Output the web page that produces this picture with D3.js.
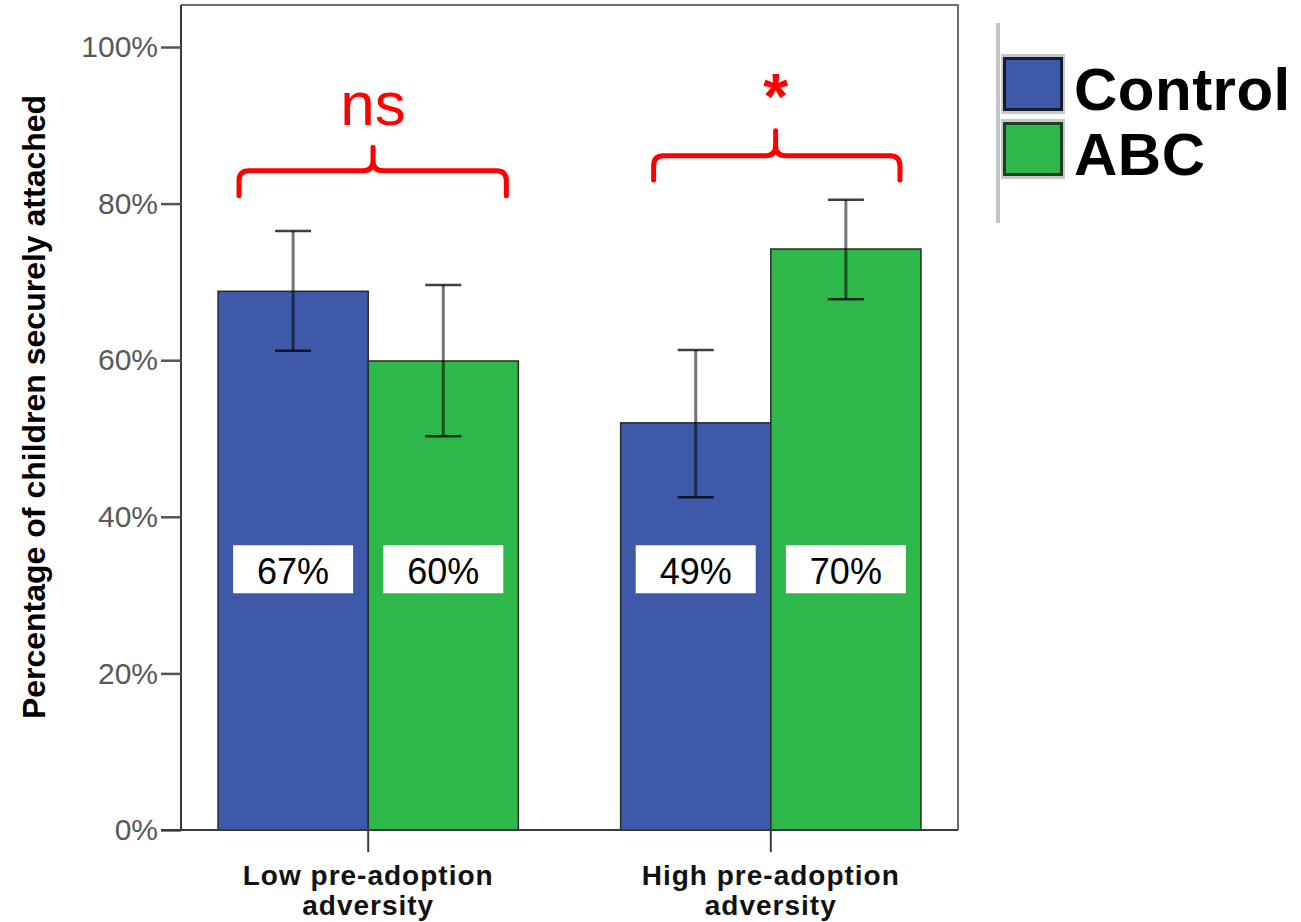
<!DOCTYPE html>
<html>
<head>
<meta charset="utf-8">
<script src="https://cdn.jsdelivr.net/npm/d3@7"></script>
<style>
  html, body { margin: 0; padding: 0; background: #fff; }
  svg { display: block; }
  text { font-family: "Liberation Sans", Arial, Helvetica, sans-serif; }
</style>
</head>
<body>
<svg id="chart" width="1301" height="922"></svg>
<script>
// ---- data ----
const categories = ["Low pre-adoption adversity", "High pre-adoption adversity"];
const categoryLines = [["Low pre-adoption", "adversity"], ["High pre-adoption", "adversity"]];
const series = ["Control", "ABC"];
const controlValues = [0.688, 0.520];
const abcValues = [0.599, 0.742];
const controlErrLow = [0.612, 0.425];
const controlErrHigh = [0.765, 0.613];
const abcErrLow = [0.503, 0.678];
const abcErrHigh = [0.696, 0.805];
const valueLabels = [["67%", "60%"], ["49%", "70%"]];
const yTicks = [0, 0.2, 0.4, 0.6, 0.8, 1.0];
const yTickLabels = ["0%", "20%", "40%", "60%", "80%", "100%"];
const significance = ["ns", "*"];

// ---- layout ----
const svg = d3.select("#chart");
const plotLeft = 181, plotRight = 958, plotTop = 5, plotBottom = 830, yTopPx = 47;
const colors = { Control: "#3e58aa", ABC: "#2eb84a" };

const y = d3.scaleLinear().domain([0, 1]).range([plotBottom, yTopPx]);
const x = d3.scaleBand().domain(categories).range([plotLeft, plotRight])
  .paddingInner(0.254).paddingOuter(0.092);
const xs = d3.scaleBand().domain(series).range([0, x.bandwidth()]);

const rows = categories.map((c, i) => ({
  cat: c, i,
  bars: [
    { s: "Control", v: controlValues[i], lo: controlErrLow[i], hi: controlErrHigh[i], label: valueLabels[i][0] },
    { s: "ABC", v: abcValues[i], lo: abcErrLow[i], hi: abcErrHigh[i], label: valueLabels[i][1] }
  ]
}));

// frame (top & right)
svg.append("path")
  .attr("d", `M${plotLeft},${plotTop}H${plotRight}V${plotBottom}`)
  .attr("fill", "none").attr("stroke", "#6e6e6e").attr("stroke-width", 2);

// bars
const g = svg.append("g");
rows.forEach(r => {
  r.bars.forEach(b => {
    const bx = x(r.cat) + xs(b.s);
    g.append("rect")
      .attr("x", bx).attr("y", y(b.v))
      .attr("width", xs.bandwidth()).attr("height", y(0) - y(b.v))
      .attr("fill", colors[b.s]).attr("stroke", "#2a2a2a").attr("stroke-width", 1.5);
  });
});

// error bars
rows.forEach(r => {
  r.bars.forEach(b => {
    const cx = x(r.cat) + xs(b.s) + xs.bandwidth() / 2;
    g.append("line").attr("x1", cx).attr("x2", cx).attr("y1", y(b.hi)).attr("y2", y(b.lo))
      .attr("stroke", "#000").attr("stroke-opacity", 0.55).attr("stroke-width", 3);
    [b.hi, b.lo].forEach(v => {
      g.append("line").attr("x1", cx - 18).attr("x2", cx + 18).attr("y1", y(v)).attr("y2", y(v))
        .attr("stroke", "#000").attr("stroke-opacity", 0.75).attr("stroke-width", 2.5);
    });
  });
});

// value label boxes
rows.forEach(r => {
  r.bars.forEach(b => {
    const cx = x(r.cat) + xs(b.s) + xs.bandwidth() / 2;
    const yc = y(0.333);
    g.append("rect").attr("x", cx - 60).attr("y", yc - 24).attr("width", 120).attr("height", 48)
      .attr("fill", "#fff");
    g.append("text").attr("x", cx).attr("y", yc + 15).attr("text-anchor", "middle")
      .attr("font-size", 36).attr("fill", "#000").text(b.label);
  });
});

// y axis
const yAxis = d3.axisLeft(y).tickValues(yTicks)
  .tickFormat((d, i) => yTickLabels[i]).tickSize(20).tickPadding(3);
const ya = svg.append("g").attr("transform", `translate(${plotLeft},0)`).call(yAxis);
ya.select(".domain").attr("stroke", "#3a3a3a").attr("stroke-width", 2)
  .attr("d", `M0,${plotBottom}V${plotTop}`);
ya.selectAll(".tick line").attr("stroke", "#555").attr("stroke-width", 2.5);
ya.selectAll(".tick text").attr("font-size", 30).attr("fill", "#595959")
  .attr("font-family", "Liberation Sans, Arial, sans-serif");

// x axis
const xa = svg.append("g").attr("transform", `translate(0,${plotBottom})`);
xa.append("line").attr("x1", 161).attr("x2", plotRight).attr("y1", 0).attr("y2", 0)
  .attr("stroke", "#3a3a3a").attr("stroke-width", 2);
rows.forEach(r => {
  const cx = x(r.cat) + x.bandwidth() / 2;
  xa.append("line").attr("x1", cx).attr("x2", cx).attr("y1", 0).attr("y2", 22)
    .attr("stroke", "#3a3a3a").attr("stroke-width", 2);
  categoryLines[r.i].forEach((ln, k) => {
    xa.append("text").attr("text-anchor", "middle").attr("font-size", 28)
      .attr("font-weight", "bold").attr("fill", "#111").attr("letter-spacing", 1)
      .attr("x", cx).attr("y", 55 + k * 30).text(ln);
  });
});

// y title
svg.append("text")
  .attr("transform", `translate(45,${(97 + 717) / 2}) rotate(-90)`)
  .attr("text-anchor", "middle").attr("font-size", 32).attr("font-weight", "bold")
  .attr("fill", "#000").text("Percentage of children securely attached");

// significance brackets
const brackets = [
  { i: 0, x0: 21, x1: -12, mid: 155, base: 0.81, line: 0.842, tip: 0.872, labelY: 125, size: 62 },
  { i: 1, x0: 33, x1: -21, mid: 155, base: 0.83, line: 0.861, tip: 0.893, labelY: 119, size: 64 }
];
brackets.forEach(b => {
  const bs = x(categories[b.i]);
  const l = bs + b.x0, rr = bs + x.bandwidth() + b.x1, c = bs + b.mid;
  const yb = y(b.base), yl = y(b.line), yt = y(b.tip);
  const rad = 10;
  const d = `M${l},${yb}V${yl + rad}Q${l},${yl} ${l + rad},${yl}H${c - rad}Q${c},${yl} ${c},${yl - rad}V${yt}` +
            `M${c},${yl - rad}Q${c},${yl} ${c + rad},${yl}H${rr - rad}Q${rr},${yl} ${rr},${yl + rad}V${yb}`;
  svg.append("path").attr("d", d).attr("fill", "none").attr("stroke", "#ff0000")
    .attr("stroke-width", 5).attr("stroke-linecap", "round").attr("stroke-linejoin", "round");
  svg.append("text").attr("x", c).attr("y", b.labelY).attr("text-anchor", "middle")
    .attr("font-size", b.size).attr("fill", "#ff0000")
    .attr("font-weight", b.i === 1 ? "bold" : "normal")
    .text(significance[b.i]);
});

// legend
const lg = svg.append("g");
lg.append("line").attr("x1", 998).attr("x2", 998).attr("y1", 23).attr("y2", 223)
  .attr("stroke", "#c4c4c4").attr("stroke-width", 4);
const legendItems = [
  { s: "Control", y: 57, stroke: "#141a2e" },
  { s: "ABC", y: 122, stroke: "#1e3d25" }
];
legendItems.forEach(it => {
  lg.append("rect").attr("x", 1001).attr("y", it.y - 3).attr("width", 64).attr("height", 60)
    .attr("fill", "#c8c8c8");
  lg.append("rect").attr("x", 1004.5).attr("y", it.y + 1.5).attr("width", 57).attr("height", 51)
    .attr("fill", colors[it.s]).attr("stroke", it.stroke).attr("stroke-width", 3);
  lg.append("text").attr("x", 1074).attr("y", it.y + 53).attr("font-size", 60)
    .attr("font-weight", "bold").attr("fill", "#000").attr("letter-spacing", 0.5).text(it.s);
});
</script>
</body>
</html>
